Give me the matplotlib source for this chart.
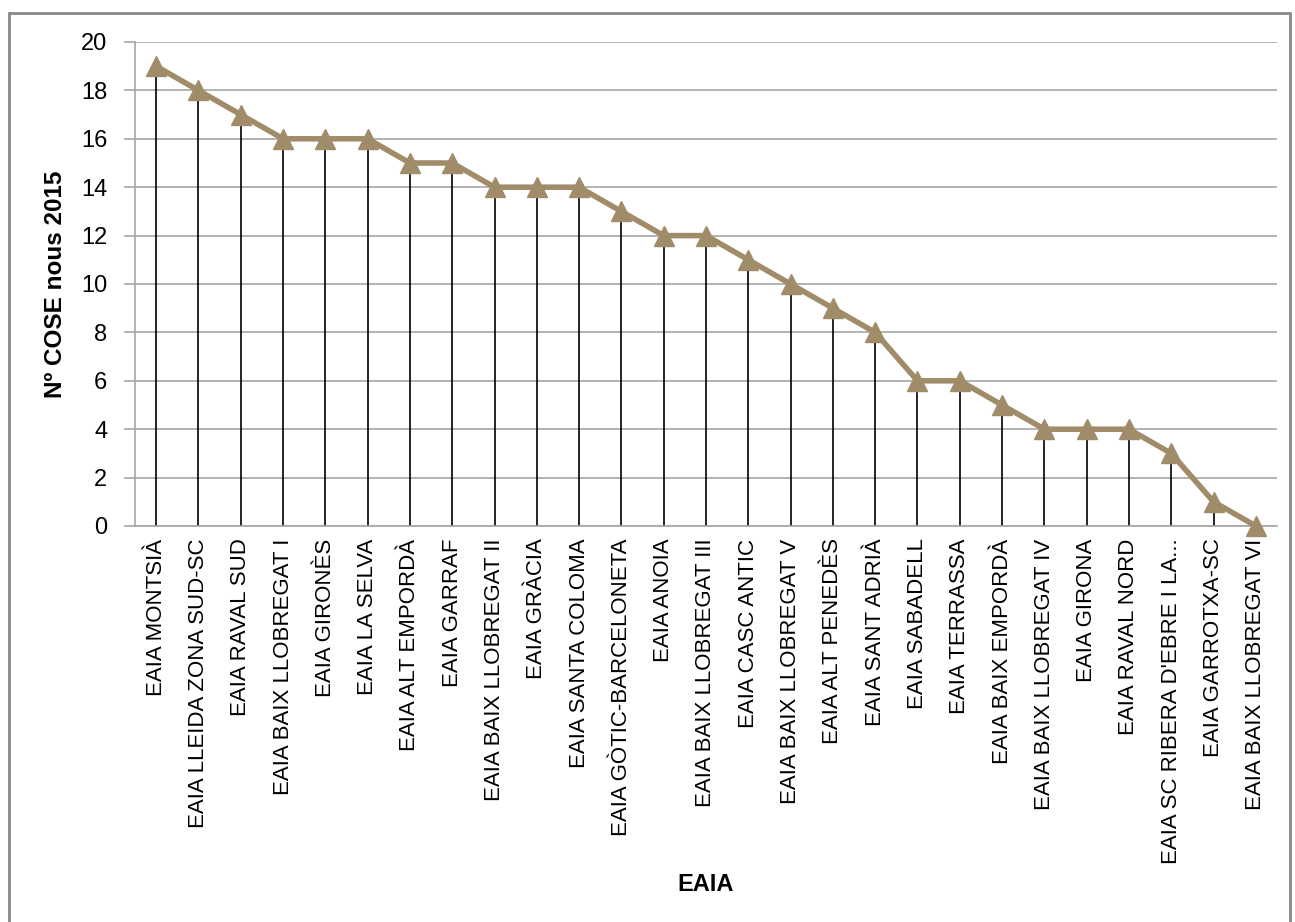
import matplotlib.pyplot as plt
from matplotlib.patches import Rectangle
import numpy as np

plt.rcParams['font.family'] = ['Liberation Sans', 'DejaVu Sans']

# EAIA units and number of new COSE cases in 2015
eaia = ['EAIA MONTSIÀ', 'EAIA LLEIDA ZONA SUD-SC', 'EAIA RAVAL SUD',
        'EAIA BAIX LLOBREGAT I', 'EAIA GIRONÈS', 'EAIA LA SELVA',
        'EAIA ALT EMPORDÀ', 'EAIA GARRAF', 'EAIA BAIX LLOBREGAT II',
        'EAIA GRÀCIA', 'EAIA SANTA COLOMA', 'EAIA GÒTIC-BARCELONETA',
        'EAIA ANOIA', 'EAIA BAIX LLOBREGAT III', 'EAIA CASC ANTIC',
        'EAIA BAIX LLOBREGAT V', 'EAIA ALT PENEDÈS', 'EAIA SANT ADRIÀ',
        'EAIA SABADELL', 'EAIA TERRASSA', 'EAIA BAIX EMPORDÀ',
        'EAIA BAIX LLOBREGAT IV', 'EAIA GIRONA', 'EAIA RAVAL NORD',
        "EAIA SC RIBERA D'EBRE I LA...", 'EAIA GARROTXA-SC',
        'EAIA BAIX LLOBREGAT VI']
cose = [19, 18, 17, 16, 16, 16, 15, 15, 14, 14, 14, 13, 12, 12, 11, 10,
        9, 8, 6, 6, 5, 4, 4, 4, 3, 1, 0]
yticks = list(range(0, 21, 2))

W, H = 1295, 922
fig = plt.figure(figsize=(W / 100, H / 100), dpi=100)
ax = fig.add_axes([135 / W, 1 - 526 / H, (1277 - 135) / W, (526 - 42) / H])

x = np.arange(len(eaia))
ax.vlines(x, 0, cose, color='black', lw=1.2, zorder=2)
ax.plot(x, cose, color='#a08c69', lw=4, marker='^', markersize=15,
        markerfacecolor='#a08c69', markeredgecolor='#a08c69', zorder=3,
        clip_on=False)

ax.set_xlim(-0.5, len(eaia) - 0.5)
ax.set_ylim(0, 20)
ax.set_yticks(yticks)
ax.yaxis.grid(True, color='#a6a6a6', lw=1.2)
ax.set_axisbelow(True)
ax.set_xticks(x)
ax.set_xticklabels(eaia, rotation=90, fontsize=16, va='top', ha='center')
ax.tick_params(axis='x', length=0, pad=9)
ax.tick_params(axis='y', labelsize=17, length=8, color='#a6a6a6', width=1.2, pad=12)
for s in ['top', 'right']:
    ax.spines[s].set_visible(False)
ax.spines['left'].set_color('#a6a6a6')
ax.spines['left'].set_linewidth(1.2)
ax.spines['bottom'].set_color('#a6a6a6')
ax.spines['bottom'].set_linewidth(1.2)

ax.set_ylabel('Nº COSE nous 2015', fontsize=17.5, fontweight='bold', labelpad=10)
fig.text((135 + 1277) / 2 / W, 1 - 884 / H, 'EAIA', fontsize=17,
         fontweight='bold', ha='center', va='center')

fig.patches.append(Rectangle((9 / W, -0.02), (1290 - 9) / W, 1.02 - 13 / H,
                             transform=fig.transFigure, fill=False,
                             edgecolor='#888888', lw=2))

fig.savefig('out.png', dpi=100)
